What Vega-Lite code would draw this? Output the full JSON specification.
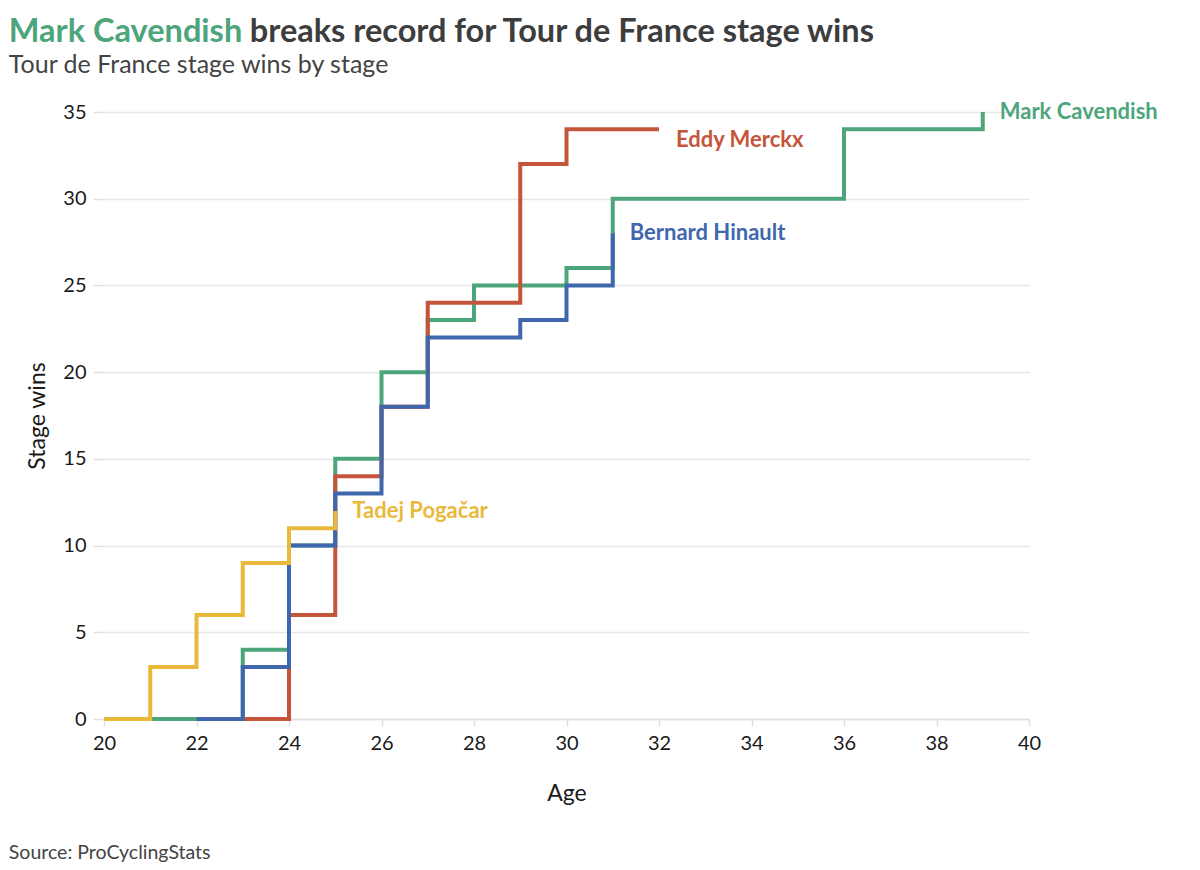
{
  "$schema": "https://vega.github.io/schema/vega-lite/v6.json",
  "background": "white",
  "padding": {"left": 8, "top": 15, "right": 5, "bottom": 5},
  "config": {
    "font": "Lato",
    "view": {"stroke": null},
    "concat": {"spacing": 0},
    "axis": {
      "labelFont": "Lato", "labelFontSize": 20, "labelColor": "#1a1a1a", "labelFlush": false,
      "titleFont": "Lato", "titleFontSize": 23, "titleFontWeight": "normal", "titleColor": "#1a1a1a",
      "gridColor": "#e6e6e6", "gridWidth": 1.5, "domainColor": "#e0e0e0", "tickColor": "#e0e0e0", "domainWidth": 1.5, "tickWidth": 1.5
    }
  },
  "title": {
    "text": "Source: ProCyclingStats", "orient": "bottom", "anchor": "start", "frame": "bounds",
    "fontSize": 19.5, "fontWeight": "normal", "color": "#444444", "font": "Lato", "offset": 39
  },
  "vconcat": [
    {
      "title": {
        "text": "breaks record for Tour de France stage wins", "anchor": "start", "frame": "bounds",
        "font": "Lato", "fontSize": 32.5, "fontWeight": "bold", "color": "#3d3d3d", "dx": 241, "offset": -32.5
      },
      "vconcat": [
        {
          "title": {
            "text": "Mark Cavendish", "subtitle": "Tour de France stage wins by stage",
            "anchor": "start", "frame": "bounds", "font": "Lato", "fontSize": 32.5, "fontWeight": "bold", "color": "#4DA57B",
            "subtitleFont": "Lato", "subtitleFontSize": 25, "subtitleColor": "#444444", "subtitlePadding": 5, "dx": -18, "offset": 23
          },
          "width": 925,
          "height": 607,
          "data": {
            "values": [
              {"rider": "Mark Cavendish", "age": 21, "wins": 0},
              {"rider": "Mark Cavendish", "age": 22, "wins": 0},
              {"rider": "Mark Cavendish", "age": 23, "wins": 4},
              {"rider": "Mark Cavendish", "age": 24, "wins": 10},
              {"rider": "Mark Cavendish", "age": 25, "wins": 15},
              {"rider": "Mark Cavendish", "age": 26, "wins": 20},
              {"rider": "Mark Cavendish", "age": 27, "wins": 23},
              {"rider": "Mark Cavendish", "age": 28, "wins": 25},
              {"rider": "Mark Cavendish", "age": 29, "wins": 25},
              {"rider": "Mark Cavendish", "age": 30, "wins": 26},
              {"rider": "Mark Cavendish", "age": 31, "wins": 30},
              {"rider": "Mark Cavendish", "age": 32, "wins": 30},
              {"rider": "Mark Cavendish", "age": 33, "wins": 30},
              {"rider": "Mark Cavendish", "age": 34, "wins": 30},
              {"rider": "Mark Cavendish", "age": 35, "wins": 30},
              {"rider": "Mark Cavendish", "age": 36, "wins": 34},
              {"rider": "Mark Cavendish", "age": 37, "wins": 34},
              {"rider": "Mark Cavendish", "age": 38, "wins": 34},
              {"rider": "Mark Cavendish", "age": 39, "wins": 35},
              {"rider": "Eddy Merckx", "age": 23, "wins": 0},
              {"rider": "Eddy Merckx", "age": 24, "wins": 6},
              {"rider": "Eddy Merckx", "age": 25, "wins": 14},
              {"rider": "Eddy Merckx", "age": 26, "wins": 18},
              {"rider": "Eddy Merckx", "age": 27, "wins": 24},
              {"rider": "Eddy Merckx", "age": 28, "wins": 24},
              {"rider": "Eddy Merckx", "age": 29, "wins": 32},
              {"rider": "Eddy Merckx", "age": 30, "wins": 34},
              {"rider": "Eddy Merckx", "age": 31, "wins": 34},
              {"rider": "Eddy Merckx", "age": 32, "wins": 34},
              {"rider": "Bernard Hinault", "age": 22, "wins": 0},
              {"rider": "Bernard Hinault", "age": 23, "wins": 3},
              {"rider": "Bernard Hinault", "age": 24, "wins": 10},
              {"rider": "Bernard Hinault", "age": 25, "wins": 13},
              {"rider": "Bernard Hinault", "age": 26, "wins": 18},
              {"rider": "Bernard Hinault", "age": 27, "wins": 22},
              {"rider": "Bernard Hinault", "age": 28, "wins": 22},
              {"rider": "Bernard Hinault", "age": 29, "wins": 23},
              {"rider": "Bernard Hinault", "age": 30, "wins": 25},
              {"rider": "Bernard Hinault", "age": 31, "wins": 28},
              {"rider": "Tadej Pogačar", "age": 20, "wins": 0},
              {"rider": "Tadej Pogačar", "age": 21, "wins": 3},
              {"rider": "Tadej Pogačar", "age": 22, "wins": 6},
              {"rider": "Tadej Pogačar", "age": 23, "wins": 9},
              {"rider": "Tadej Pogačar", "age": 24, "wins": 11},
              {"rider": "Tadej Pogačar", "age": 25, "wins": 12}
            ]
          },
          "encoding": {
            "x": {
              "field": "age", "type": "quantitative", "title": "Age",
              "scale": {"domain": [20, 40], "nice": false, "zero": false},
              "axis": {"values": [20, 22, 24, 26, 28, 30, 32, 34, 36, 38, 40], "grid": false, "tickSize": 7, "labelPadding": 7, "titlePadding": 29}
            },
            "y": {
              "field": "wins", "type": "quantitative", "title": "Stage wins",
              "scale": {"domain": [0, 35], "nice": false},
              "axis": {"values": [0, 5, 10, 15, 20, 25, 30, 35], "domain": false, "tickSize": 11, "labelPadding": 7, "titlePadding": 13}
            },
            "color": {
              "field": "rider", "type": "nominal", "legend": null,
              "scale": {
                "domain": ["Mark Cavendish", "Eddy Merckx", "Bernard Hinault", "Tadej Pogačar"],
                "range": ["#4DA57B", "#C4553B", "#4067AD", "#E9B93C"]
              }
            }
          },
          "layer": [
            {"transform": [{"filter": "datum.rider === 'Mark Cavendish'"}], "mark": {"type": "line", "interpolate": "step-after", "strokeWidth": 4}},
            {"transform": [{"filter": "datum.rider === 'Eddy Merckx'"}], "mark": {"type": "line", "interpolate": "step-after", "strokeWidth": 4}},
            {"transform": [{"filter": "datum.rider === 'Bernard Hinault'"}], "mark": {"type": "line", "interpolate": "step-after", "strokeWidth": 4}},
            {"transform": [{"filter": "datum.rider === 'Tadej Pogačar'"}], "mark": {"type": "line", "interpolate": "step-after", "strokeWidth": 4}},
            {
              "transform": [
                {"joinaggregate": [{"op": "max", "field": "age", "as": "last_age"}], "groupby": ["rider"]},
                {"filter": "datum.age === datum.last_age && datum.rider !== 'Eddy Merckx'"}
              ],
              "mark": {"type": "text", "align": "left", "baseline": "middle", "dx": 17, "dy": 0, "fontSize": 22, "fontWeight": "bold", "font": "Lato"},
              "encoding": {"text": {"field": "rider"}}
            },
            {
              "transform": [
                {"joinaggregate": [{"op": "max", "field": "age", "as": "last_age"}], "groupby": ["rider"]},
                {"filter": "datum.age === datum.last_age && datum.rider === 'Eddy Merckx'"}
              ],
              "mark": {"type": "text", "align": "left", "baseline": "middle", "dx": 17, "dy": 11, "fontSize": 22, "fontWeight": "bold", "font": "Lato"},
              "encoding": {"text": {"field": "rider"}}
            }
          ]
        }
      ]
    }
  ]
}
